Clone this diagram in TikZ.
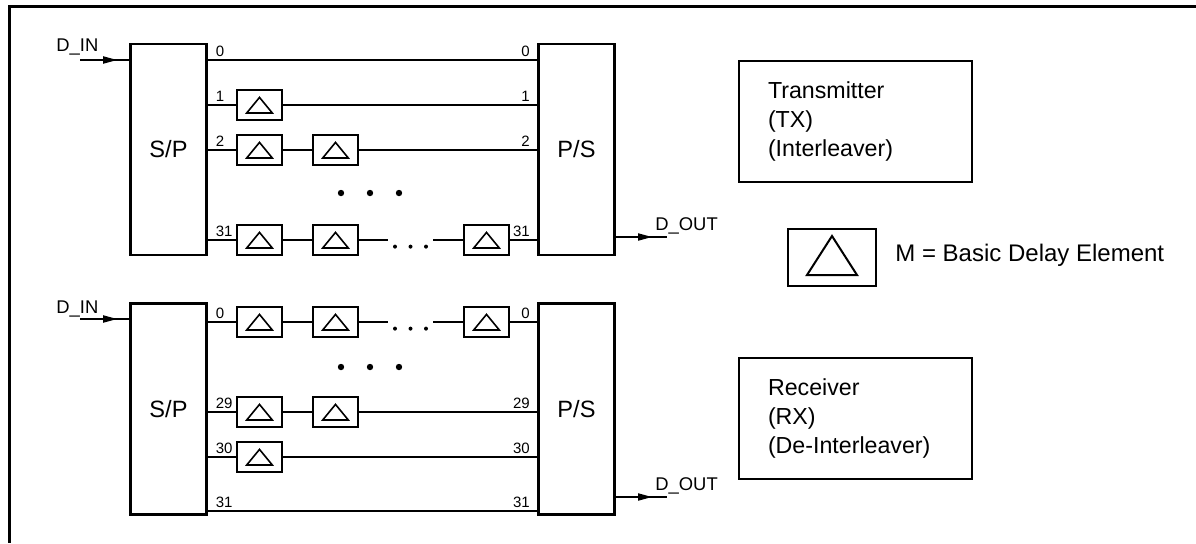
\documentclass[tikz,border=0pt]{standalone}
\usepackage{fontspec}
\setmainfont{Liberation Sans}
\usetikzlibrary{arrows.meta}

\begin{document}
\begin{tikzpicture}
[x=0.5pt,y=-0.5pt,
 wire/.style={line width=0.7pt},
 arr/.style={line width=0.7pt,-{Triangle[length=7pt,width=3.6pt]}},
 conv/.style={draw,rectangle,line width=1.4pt,minimum width=38pt,minimum height=105.5pt,font=\fontsize{11.8}{14}\selectfont},
 dly/.style={draw,rectangle,line width=0.8pt,minimum width=22.5pt,minimum height=15pt,inner sep=0pt,
   path picture={\draw[line width=0.8pt] ([yshift=3.8pt]path picture bounding box.center)
     -- ([xshift=6.4pt,yshift=-4pt]path picture bounding box.center)
     -- ([xshift=-6.4pt,yshift=-4pt]path picture bounding box.center) -- cycle;}},
 dlybig/.style={draw,rectangle,line width=1pt,minimum width=44pt,minimum height=28.5pt,inner sep=0pt,
   path picture={\draw[line width=1pt] ([yshift=10.75pt]path picture bounding box.center)
     -- ([xshift=12.5pt,yshift=-8.75pt]path picture bounding box.center)
     -- ([xshift=-12.5pt,yshift=-8.75pt]path picture bounding box.center) -- cycle;}},
 gap/.style={rectangle,minimum width=22.5pt,minimum height=6pt,inner sep=0pt},
 info/.style={draw,rectangle,line width=1.1pt,minimum height=60.5pt,text width=87.5pt,inner xsep=14.5pt,
   align=left,font=\fontsize{11.6}{14.5}\selectfont},
 num/.style={font=\fontsize{7.5}{8}\selectfont,inner sep=1.5pt},
 numl/.style={num,anchor=south west,xshift=2.3pt},
 numr/.style={num,anchor=south east,xshift=-2pt},
 sig/.style={font=\fontsize{9.2}{10}\selectfont,inner sep=0pt,anchor=base west}]
\useasboundingbox (0,0) rectangle (1196,543);
\draw[line width=1.5pt] (1196,6) -- (9.5,6) -- (9.5,543);

% Transmitter (interleaver)
\node(SPa)[conv] at (168.5,149.5) {S/P};
\node(PSa)[conv] at (576.5,149.5) {P/S};
\node(T1a)[dly] at (259.5,105) {};
\node(T2a)[dly] at (259.5,150) {};
\node(T2b)[dly] at (335.5,150) {};
\node(T31a)[dly] at (259.5,240) {};
\node(T31b)[dly] at (335.5,240) {};
\node(T31e)[gap] at (410.5,240) {};
\node(T31c)[dly] at (486.5,240) {};
\coordinate(T0) at (0,60);
\coordinate(TIN) at (80,60);
\coordinate(TOUT) at (667,237);
\node(TINl)[sig] at (56,51) {D\_IN};
\node(TOUTl)[sig] at (655,230) {D\_OUT};

\draw[wire] (TIN) -- (SPa.west |- TIN);
\draw[arr] (TIN) -- ([xshift=-6pt]SPa.west |- TIN);
\draw[wire] (PSa.east |- TOUT) -- (TOUT);
\draw[arr] (PSa.east |- TOUT) -- ([xshift=-7.5pt]TOUT);

\draw[wire] (SPa.east |- T0) -- (PSa.west |- T0);
\draw[wire] (SPa.east |- T1a) -- (T1a) -- (PSa.west |- T1a);
\draw[wire] (SPa.east |- T2a) -- (T2a) -- (T2b) -- (PSa.west |- T2b);
\draw[wire] (SPa.east |- T31a) -- (T31a) -- (T31b) -- (T31e) -- (T31c) -- (PSa.west |- T31c);
\foreach \i in {-1,0,1} \fill ([xshift=\i*7.75pt,yshift=-3.3pt]T31e.center) circle (1pt);
\foreach \x in {341,370,399} \fill (\x,193) circle (1.6pt);

\node(TL0)[numl] at (SPa.east |- T0) {0};
\node(TL1)[numl] at (SPa.east |- T1a) {1};
\node(TL2)[numl] at (SPa.east |- T2a) {2};
\node(TL31)[numl] at (SPa.east |- T31a) {31};
\node(TR0)[numr] at (PSa.west |- T0) {0};
\node(TR1)[numr] at (PSa.west |- T1a) {1};
\node(TR2)[numr] at (PSa.west |- T2b) {2};
\node(TR31)[numr] at (PSa.west |- T31c) {31};

% Receiver (de-interleaver)
\node(SPb)[conv] at (168.5,408.8) {S/P};
\node(PSb)[conv] at (576.5,408.8) {P/S};
\node(R0a)[dly] at (259.5,322) {};
\node(R0b)[dly] at (335.5,322) {};
\node(R0e)[gap] at (410.5,322) {};
\node(R0c)[dly] at (486.5,322) {};
\node(R29a)[dly] at (259.5,412) {};
\node(R29b)[dly] at (335.5,412) {};
\node(R30a)[dly] at (259.5,457) {};
\coordinate(R31) at (0,511);
\coordinate(RIN) at (80,319);
\coordinate(ROUT) at (667,497);
\node(RINl)[sig] at (56,313) {D\_IN};
\node(ROUTl)[sig] at (655,490) {D\_OUT};

\draw[wire] (RIN) -- (SPb.west |- RIN);
\draw[arr] (RIN) -- ([xshift=-6pt]SPb.west |- RIN);
\draw[wire] (PSb.east |- ROUT) -- (ROUT);
\draw[arr] (PSb.east |- ROUT) -- ([xshift=-7.5pt]ROUT);

\draw[wire] (SPb.east |- R0a) -- (R0a) -- (R0b) -- (R0e) -- (R0c) -- (PSb.west |- R0c);
\draw[wire] (SPb.east |- R29a) -- (R29a) -- (R29b) -- (PSb.west |- R29b);
\draw[wire] (SPb.east |- R30a) -- (R30a) -- (PSb.west |- R30a);
\draw[wire] (SPb.east |- R31) -- (PSb.west |- R31);
\foreach \i in {-1,0,1} \fill ([xshift=\i*7.75pt,yshift=-3.3pt]R0e.center) circle (1pt);
\foreach \x in {341,370,399} \fill (\x,367) circle (1.6pt);

\node(RL0)[numl] at (SPb.east |- R0a) {0};
\node(RL29)[numl] at (SPb.east |- R29a) {29};
\node(RL30)[numl] at (SPb.east |- R30a) {30};
\node(RL31)[numl] at (SPb.east |- R31) {31};
\node(RR0)[numr] at (PSb.west |- R0c) {0};
\node(RR29)[numr] at (PSb.west |- R29b) {29};
\node(RR30)[numr] at (PSb.west |- R30a) {30};
\node(RR31)[numr] at (PSb.west |- R31) {31};

% Legend
\node(TX)[info] at (855.5,121.5) {Transmitter\\(TX)\\(Interleaver)};
\node(RX)[info] at (855.5,418.5) {Receiver\\(RX)\\(De-Interleaver)};
\node(M)[dlybig] at (832,257.5) {};
\node(ML)[anchor=base west,inner sep=0pt,font=\fontsize{12}{14}\selectfont] at (895,261.5) {M = Basic Delay Element};
\end{tikzpicture}
\end{document}
